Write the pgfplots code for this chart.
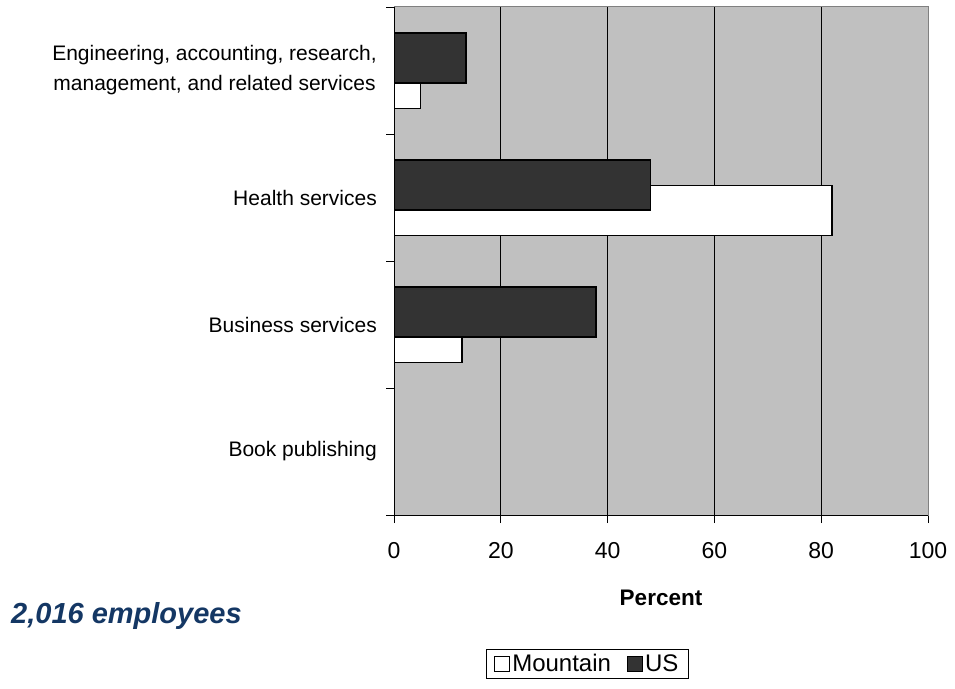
\documentclass[border=0pt]{standalone}
\usepackage{pgfplots}
\pgfplotsset{compat=1.18}
\usepackage{fontspec}
\setmainfont{Liberation Sans}
\definecolor{bgc}{HTML}{C0C0C0}
\definecolor{usc}{HTML}{333333}
\definecolor{navy}{RGB}{20,55,100}
\begin{document}
\begin{tikzpicture}[x=1pt,y=1pt]
\useasboundingbox (0,0) rectangle (955,688);
\begin{axis}[
  at={(394pt,173pt)}, anchor=south west,
  scale only axis, width=534pt, height=508pt,
  xbar, bar width=50pt,
  xmin=0, xmax=100, ymin=-0.5, ymax=3.5,
  axis background/.style={fill=bgc},
  axis line style={draw=gray, line width=1pt},
  tick align=outside, xtick pos=bottom, ytick pos=left,
  major tick length=8pt,
  every tick/.style={draw=black, line width=0.8pt},
  xtick={0,20,...,100},
  xmajorgrids, major grid style={black, line width=0.8pt},
  ytick={-0.5,0.5,1.5,2.5,3.5},
  yticklabels={},
  extra y ticks={0,1,2,3},
  extra y tick labels={Book publishing, Business services, Health services, {Engineering, accounting, research,\\management, and related services}},
  extra y tick style={grid=none, major tick length=0pt,
    yticklabel style={font=\fontsize{21}{30}\selectfont, align=center, inner sep=0pt, xshift=-17pt}},
  /pgf/number format/assume math mode=true,
  xticklabel style={font=\fontsize{23}{27}\selectfont, yshift=-16pt},
  xlabel={\bfseries Percent},
  xlabel style={font=\fontsize{22.5}{27}\selectfont, yshift=-24pt},
  legend style={at={(0.362,-0.293)}, anchor=center, legend columns=2, draw=black, line width=0.8pt,
    font=\fontsize{24}{28}\selectfont, inner xsep=8pt, inner ysep=3pt,
    nodes={inner xsep=2pt},
    /tikz/every even column/.append style={column sep=14pt}},
  legend image code/.code={\draw[#1,line width=1pt] (0pt,-7.5pt) rectangle (15pt,7.5pt);},
]
\addplot[fill=white, draw=black, line width=1.5pt, bar shift=-13pt] coordinates {(0,0) (12.7,1) (82,2) (5,3)};
\addlegendentry{Mountain}
\addplot[fill=usc, draw=black, line width=1.5pt, bar shift=12.5pt] coordinates {(0,0) (37.8,1) (48,2) (13.5,3)};
\addlegendentry{US}
\draw[black, line width=1pt] (rel axis cs:0,1) -- (rel axis cs:0,0) -- (rel axis cs:1,0);
\end{axis}
\node[anchor=base west, font=\fontsize{29}{34}\selectfont\bfseries\itshape, text=navy, inner sep=0pt] at (11,65) {2,016 employees};
\end{tikzpicture}
\end{document}
